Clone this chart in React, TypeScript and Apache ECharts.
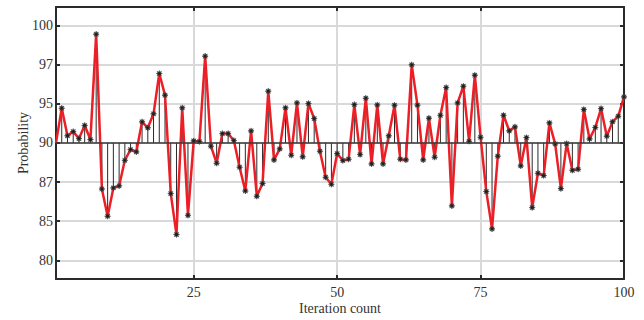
import React, { useEffect, useRef } from "react";
import * as echarts from "echarts";

const iterations: number[] = Array.from({ length: 100 }, (_, i) => i + 1);

const probability: number[] = [
  90.0, 92.95, 90.6, 90.96, 90.37, 91.48, 90.28, 99.25, 86.08, 83.76,
  86.17, 86.34, 88.52, 89.43, 89.23, 91.79, 91.28, 92.47, 95.9, 94.06,
  85.69, 82.2, 92.98, 83.84, 90.17, 90.11, 97.38, 89.72, 88.27, 90.79,
  90.79, 90.2, 87.93, 85.91, 91.02, 85.46, 86.54, 94.4, 88.55, 89.49,
  92.98, 88.95, 93.4, 88.81, 93.35, 92.07, 89.29, 87.08, 86.48, 89.09,
  88.5, 88.61, 93.26, 89.01, 93.8, 88.21, 93.23, 88.21, 90.6, 93.21,
  88.61, 88.55, 96.64, 93.21, 88.55, 92.1, 88.78, 92.35, 94.71, 84.64,
  93.4, 94.82, 90.14, 95.76, 90.48, 85.86, 82.68, 88.87, 92.35, 91.02,
  91.36, 88.04, 90.45, 84.5, 87.42, 87.22, 91.7, 89.91, 86.11, 89.94,
  87.67, 87.76, 92.84, 90.34, 91.31, 92.92, 90.57, 91.79, 92.27, 93.91,
];

const baseline = 90;

const yTickValues: number[] = [80, 83.3333, 86.6667, 90, 93.3333, 96.6667, 100];
const yTickLabels: string[] = ["80", "85", "87", "90", "95", "97", "100"];
const xTickValues: number[] = [25, 50, 75, 100];

function starPath(): string {
  const pts: string[] = [];
  const n = 8;
  for (let k = 0; k < n * 2; k++) {
    const r = k % 2 === 0 ? 10 : 5;
    const a = (Math.PI * k) / n - Math.PI / 2;
    pts.push(`${(r * Math.cos(a)).toFixed(2)} ${(r * Math.sin(a)).toFixed(2)}`);
  }
  return "path://M" + pts.join(" L") + " Z";
}

const FONT = "'Liberation Serif', 'Times New Roman', serif";
const TEXT = "#333";
const FRAME = "#2b2b2b";
const GRID = "#d9d9d9";

export default function App() {
  const ref = useRef<HTMLDivElement>(null);

  useEffect(() => {
    document.body.style.margin = "0";
    if (!ref.current) return;
    const chart = echarts.init(ref.current, undefined, { renderer: "svg" });

    const pairs = iterations.map((x, i) => [x, probability[i]]);
    const yLabel = (v: number) => {
      let best = 0;
      for (let i = 1; i < yTickValues.length; i++) {
        if (Math.abs(yTickValues[i] - v) < Math.abs(yTickValues[best] - v)) best = i;
      }
      return yTickLabels[best];
    };

    const commonAxisLine = { show: true, lineStyle: { color: FRAME, width: 2 } };

    chart.setOption({
      animation: false,
      grid: { left: 56, right: 20, top: 7, bottom: 41, containLabel: false },
      xAxis: [
        {
          type: "value",
          min: 1,
          max: 100,
          position: "bottom",
          name: "Iteration count",
          nameLocation: "middle",
          nameGap: 22,
          nameMoveOverlap: false,
          nameTextStyle: { fontFamily: FONT, fontSize: 14, color: TEXT },
          axisLine: commonAxisLine,
          axisTick: { show: true, inside: true, length: 4, customValues: xTickValues, lineStyle: { color: FRAME, width: 2 } },
          axisLabel: { customValues: xTickValues, fontFamily: FONT, fontSize: 14, color: TEXT, margin: 6 },
          splitLine: { show: true, lineStyle: { color: GRID, width: 2 } },
        },
        {
          type: "value",
          min: 1,
          max: 100,
          position: "top",
          axisLine: commonAxisLine,
          axisTick: { show: true, inside: true, length: 4, customValues: xTickValues, lineStyle: { color: FRAME, width: 2 } },
          axisLabel: { show: false },
          splitLine: { show: false },
        },
      ],
      yAxis: [
        {
          type: "value",
          min: 78.42,
          max: 101.56,
          position: "left",
          name: "Probability",
          nameLocation: "middle",
          nameGap: 26,
          nameMoveOverlap: false,
          nameRotate: 90,
          nameTextStyle: { fontFamily: FONT, fontSize: 14, color: TEXT },
          axisLine: commonAxisLine,
          axisTick: { show: true, inside: true, length: 4, customValues: yTickValues, lineStyle: { color: FRAME, width: 2 } },
          axisLabel: { customValues: yTickValues, formatter: (v: number) => yLabel(v), fontFamily: FONT, fontSize: 14, color: TEXT, margin: 3 },
          splitLine: { show: true, lineStyle: { color: GRID, width: 2 } },
        },
        {
          type: "value",
          min: 78.42,
          max: 101.56,
          position: "right",
          axisLine: commonAxisLine,
          axisTick: { show: true, inside: true, length: 4, customValues: yTickValues, lineStyle: { color: FRAME, width: 2 } },
          axisLabel: { show: false },
          splitLine: { show: false },
        },
      ],
      series: [
        {
          type: "custom",
          xAxisIndex: 0,
          yAxisIndex: 0,
          z: 1,
          silent: true,
          data: pairs,
          renderItem: (params: any, api: any) => {
            const x = api.value(0);
            const y = api.value(1);
            const p0 = api.coord([x, baseline]);
            const p1 = api.coord([x, y]);
            return {
              type: "line",
              shape: { x1: p0[0], y1: p0[1], x2: p1[0], y2: p1[1] },
              style: { stroke: "#2a2a2a", lineWidth: 1 },
            };
          },
          markLine: {
            silent: true,
            symbol: "none",
            label: { show: false },
            lineStyle: { color: "#3a3a3a", width: 1.5, type: "solid" },
            data: [{ yAxis: baseline }],
          },
        },
        {
          type: "line",
          xAxisIndex: 0,
          yAxisIndex: 0,
          z: 3,
          data: pairs.map((p, i) => (i === 0 ? { value: p, symbol: "none" } : p)),
          lineStyle: { color: "#ec1f26", width: 2.5 },
          symbol: starPath(),
          symbolSize: 6,
          itemStyle: { color: "#1f1f1f", borderColor: "#444", borderWidth: 0.6 },
        },
      ],
    });

    return () => chart.dispose();
  }, []);

  return <div ref={ref} style={{ width: 644, height: 320 }} />;
}
